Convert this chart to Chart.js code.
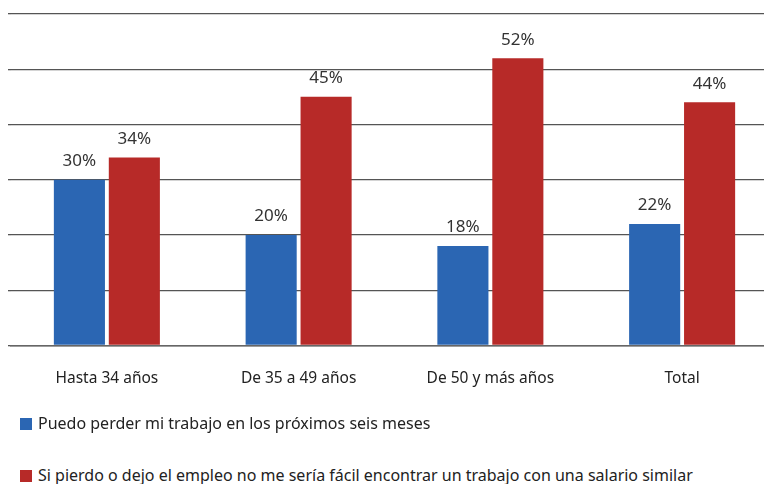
<!DOCTYPE html>
<html>
<head>
<meta charset="utf-8">
<script src="https://cdn.jsdelivr.net/npm/chart.js@4/dist/chart.umd.min.js"></script>
<style>
  html, body { margin: 0; padding: 0; background: #fff; overflow: hidden; }
  #wrap { position: relative; width: 764px; height: 484px; overflow: hidden; }
  #chart-box { position: absolute; left: 0; top: 0; width: 778px; height: 416px; }
  .legend-item { position: absolute; left: 20px; font-family: "Noto Sans", sans-serif; font-size: 16px; color: #222; white-space: nowrap; line-height: 20px; }
  .legend-item span.box { display: inline-block; width: 12px; height: 12px; margin-right: 6px; vertical-align: -1px; }
</style>
</head>
<body>
<div id="wrap">
  <div id="chart-box"><canvas id="chart"></canvas></div>
  <div id="legend"></div>
</div>
<script>
'use strict';

const categories = ['Hasta 34 años', 'De 35 a 49 años', 'De 50 y más años', 'Total'];
const seriesNames = [
  'Puedo perder mi trabajo en los próximos seis meses',
  'Si pierdo o dejo el empleo no me sería fácil encontrar un trabajo con una salario similar'
];
const perderTrabajo = [30, 20, 18, 22];
const noFacilEncontrar = [34, 45, 52, 44];
const seriesColors = ['#2b66b3', '#b72a28'];

// value labels above each bar
const barLabels = {
  id: 'barLabels',
  afterDatasetsDraw: function (chart) {
    const ctx = chart.ctx;
    ctx.save();
    ctx.font = '17px "Noto Sans", sans-serif';
    ctx.fillStyle = '#333';
    ctx.textAlign = 'center';
    ctx.textBaseline = 'bottom';
    chart.data.datasets.forEach(function (ds, i) {
      chart.getDatasetMeta(i).data.forEach(function (bar, j) {
        ctx.fillText(ds.data[j] + '%', bar.x, bar.y - 10);
      });
    });
    ctx.restore();
  }
};

const ctx = document.getElementById('chart').getContext('2d');
new Chart(ctx, {
  type: 'bar',
  data: {
    labels: categories,
    datasets: [
      { label: seriesNames[0], data: perderTrabajo, backgroundColor: seriesColors[0] },
      { label: seriesNames[1], data: noFacilEncontrar, backgroundColor: seriesColors[1] }
    ]
  },
  options: {
    responsive: true,
    maintainAspectRatio: false,
    animation: false,
    datasets: {
      bar: { categoryPercentage: 0.573, barPercentage: 0.93 }
    },
    layout: { padding: { left: 8, right: 0, top: 14, bottom: 12 } },
    plugins: {
      legend: { display: false },
      tooltip: { enabled: false }
    },
    scales: {
      x: {
        grid: { display: false },
        border: { display: true, color: '#666', width: 1.5 },
        ticks: {
          color: '#222',
          padding: 16,
          font: { family: '"Noto Sans", sans-serif', size: 15.5 }
        }
      },
      y: {
        min: 0,
        max: 60,
        border: { display: false },
        grid: { color: '#555', lineWidth: 1.3, drawTicks: true, tickLength: 3 },
        ticks: { display: false, stepSize: 10 }
      }
    }
  },
  plugins: [barLabels]
});

// legend below the chart, one entry per line
const legendTops = [413, 465];
const legendDiv = document.getElementById('legend');
seriesNames.forEach(function (name, i) {
  const item = document.createElement('div');
  item.className = 'legend-item';
  item.style.top = legendTops[i] + 'px';
  const box = document.createElement('span');
  box.className = 'box';
  box.style.background = seriesColors[i];
  item.appendChild(box);
  item.appendChild(document.createTextNode(name));
  legendDiv.appendChild(item);
});
</script>
</body>
</html>
